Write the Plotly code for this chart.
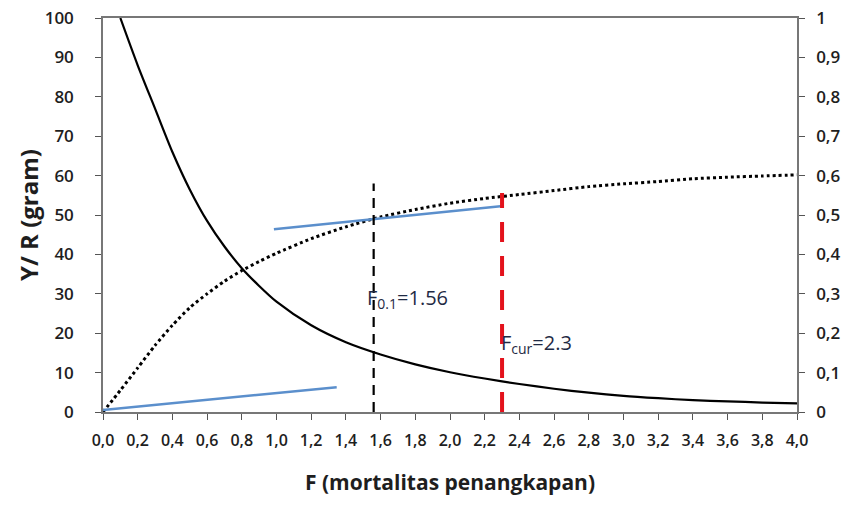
import plotly.graph_objects as go

# Data
F_br = [0.1, 0.2, 0.3, 0.4, 0.5, 0.6, 0.7, 0.8, 0.9, 1.0, 1.2, 1.4, 1.6, 1.8, 2.0, 2.2, 2.4, 2.6, 2.8, 3.0, 3.2, 3.4, 3.6, 3.8, 4.0]
BR = [100, 88, 77, 66, 56.5, 48.5, 42, 36.5, 32, 28, 22, 17.7, 14.6, 12.1, 10.1, 8.5, 7.1, 5.9, 4.9, 4.1, 3.5, 3.0, 2.7, 2.4, 2.2]

F_yr = [0.0, 0.1, 0.2, 0.3, 0.4, 0.5, 0.6, 0.7, 0.8, 0.9, 1.0, 1.2, 1.4, 1.6, 1.8, 2.0, 2.2, 2.4, 2.6, 2.8, 3.0, 3.2, 3.4, 3.6, 3.8, 4.0]
YR = [0, 5.5, 11.2, 16.9, 22, 26.5, 30, 33.2, 35.9, 38.2, 40.3, 44, 47, 49.5, 51.4, 53, 54.2, 55.2, 56.2, 57.2, 57.9, 58.5, 59.2, 59.6, 59.9, 60.2]

tan0_F = [0.0, 1.347]
tan0_Y = [0.5, 6.3]
tan1_F = [0.985, 2.305]
tan1_Y = [46.4, 52.3]

F01 = 1.56
F01_top = 58
Fcur = 2.3
Fcur_top = 55.6

x_ticks = [round(i * 0.2, 1) for i in range(21)]
y_ticks = list(range(0, 101, 10))
y2_ticks = [round(i * 0.1, 1) for i in range(11)]

font_fam = "Open Sans"
txt_col = "#1e1e1e"
fig = go.Figure()

fig.add_trace(go.Scatter(x=F_br, y=BR, mode="lines", line=dict(color="black", width=2.2, shape="spline", smoothing=0.8), showlegend=False))
fig.add_trace(go.Scatter(x=F_yr, y=YR, mode="lines", line=dict(color="black", width=3, dash="dot", shape="spline", smoothing=0.6), showlegend=False))
fig.add_trace(go.Scatter(x=tan0_F, y=tan0_Y, mode="lines", line=dict(color="#5b8fcc", width=2.5), showlegend=False))
fig.add_trace(go.Scatter(x=tan1_F, y=tan1_Y, mode="lines", line=dict(color="#5b8fcc", width=2.5), showlegend=False))
fig.add_trace(go.Scatter(x=[F01, F01], y=[0, F01_top], mode="lines", line=dict(color="black", width=2.2, dash="10px,7px"), showlegend=False))
fig.add_trace(go.Scatter(x=[Fcur, Fcur], y=[0, Fcur_top], mode="lines", line=dict(color="#e3121c", width=4, dash="20px,14px"), showlegend=False))
fig.add_trace(go.Scatter(x=[0, 4], y=[0, 1], mode="markers", marker=dict(opacity=0), yaxis="y2", showlegend=False, hoverinfo="skip"))

fig.add_annotation(x=F01 - 0.05, y=28.8, text="F<sub>0.1</sub>=1.56", showarrow=False, xanchor="left",
                   font=dict(family=font_fam, size=20, color="#1f2a44"))
fig.add_annotation(x=Fcur - 0.02, y=17.5, text="F<sub>cur</sub>=2.3", showarrow=False, xanchor="left",
                   font=dict(family=font_fam, size=20, color="#1f2a44"))

# Axis titles
fig.add_annotation(xref="paper", yref="paper", x=0.5, y=-0.178, yanchor="middle", xanchor="center",
                   text="F (mortalitas penangkapan)", showarrow=False,
                   font=dict(family=font_fam, size=21, weight="bold", color=txt_col))
fig.add_annotation(xref="paper", yref="paper", x=-0.108, y=0.500, yanchor="middle", xanchor="center",
                   text="Y/ R (gram)", textangle=-90, showarrow=False,
                   font=dict(family=font_fam, size=24, weight="bold", color=txt_col))

fig.update_layout(
    width=850, height=506,
    margin=dict(l=103, r=53, t=18, b=94),
    paper_bgcolor="white", plot_bgcolor="white",
    separators=", ",
    font=dict(family=font_fam, color="black"),
    xaxis=dict(range=[0, 4], tickvals=x_ticks, tickformat=".1f", ticks="outside", ticklen=6,
               tickcolor="#555", linecolor="#777", linewidth=1.5, showline=True, mirror=True,
               showgrid=False, zeroline=False, automargin=False, ticklabelstandoff=7,
               tickfont=dict(family=font_fam, size=16, color=txt_col, weight=600)),
    yaxis=dict(range=[0, 100], tickvals=y_ticks, ticks="outside", ticklen=6, tickcolor="#555",
               linecolor="#777", linewidth=1.5, showline=True, showgrid=False, zeroline=False,
               automargin=False, ticklabelstandoff=18,
               tickfont=dict(family=font_fam, size=17, color=txt_col, weight=600)),
    yaxis2=dict(range=[0, 1], tickvals=y2_ticks, overlaying="y", side="right", ticks="outside", ticklen=6,
                tickcolor="#555", linecolor="#777", linewidth=1.5, showline=True, showgrid=False, zeroline=False,
                automargin=False, ticklabelstandoff=8,
                tickfont=dict(family=font_fam, size=17, color=txt_col, weight=600)),
)

fig.write_html("out.html", config={"displayModeBar": False},
               post_script="document.body.style.margin='0';document.body.style.overflow='hidden';")
